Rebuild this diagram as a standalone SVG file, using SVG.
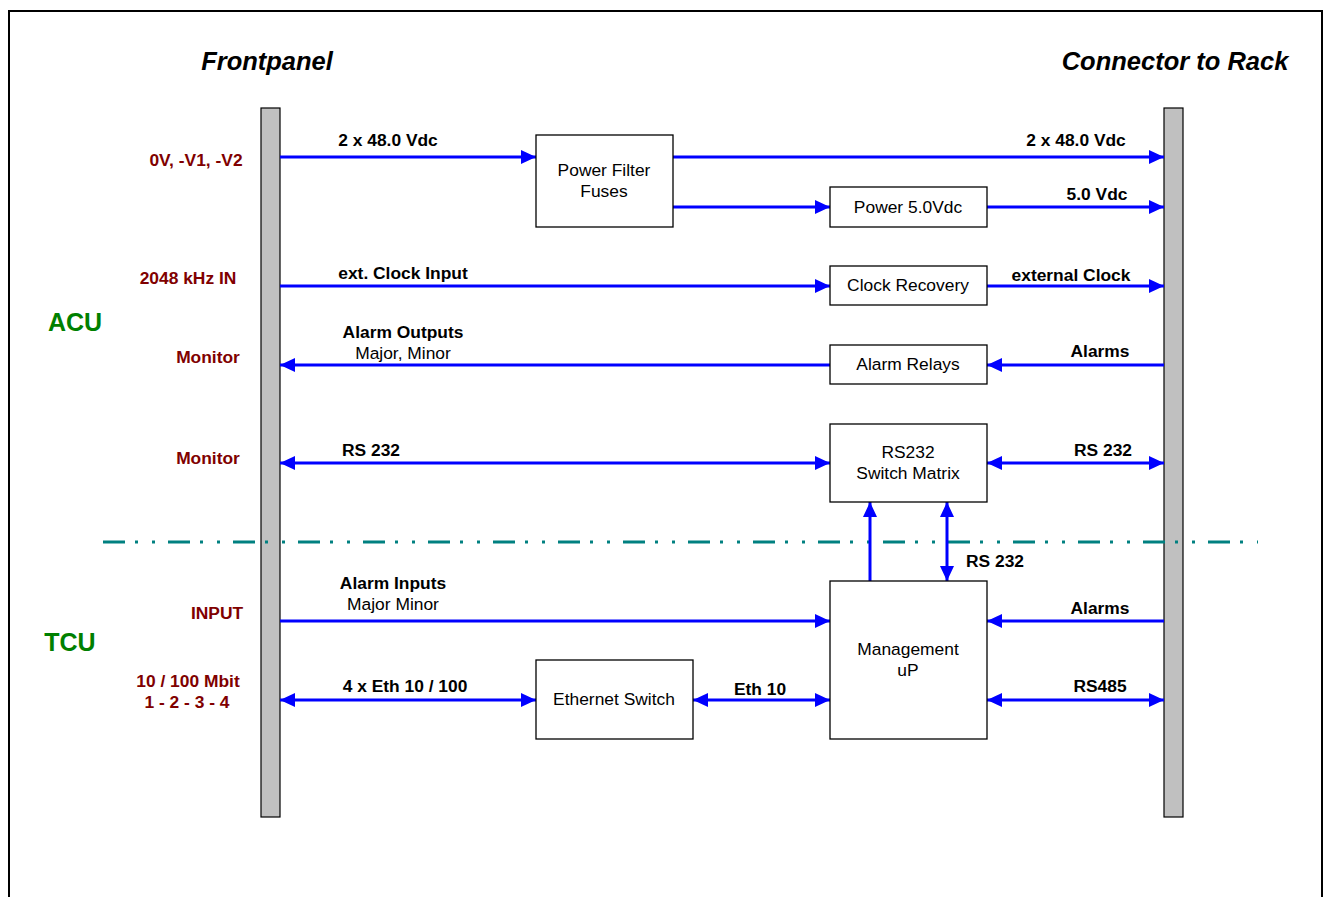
<svg xmlns="http://www.w3.org/2000/svg" width="1327" height="897" viewBox="0 0 1327 897">
<style>
.t{font-family:"Liberation Sans",Arial,sans-serif;font-size:17.4px;fill:#000;text-anchor:middle}
.b{font-weight:bold}
.red{fill:#800000;font-weight:bold}
.grn{fill:#008000;font-weight:bold;font-size:25px}
.hdr{font-weight:bold;font-style:italic;font-size:25.5px}
.box{fill:#fff;stroke:#000;stroke-width:1.3}
.bar{fill:#c0c0c0;stroke:#000;stroke-width:1.2}
.c{stroke:#0000ff;stroke-width:3;fill:none}
.e{marker-end:url(#ah)}
.d{marker-start:url(#ah);marker-end:url(#ah)}
</style>
<defs>
<marker id="ah" markerUnits="userSpaceOnUse" markerWidth="16" markerHeight="15" refX="15" refY="7" orient="auto-start-reverse" viewBox="0 0 16 14">
<path d="M0,0 L15,7 L0,14 z" fill="#0000ff"/>
</marker>
</defs>
<rect width="1327" height="897" fill="#fff"/>
<rect x="9" y="11" width="1313" height="900" fill="none" stroke="#000" stroke-width="2"/>

<text class="t hdr" x="267" y="70">Frontpanel</text>
<text class="t hdr" x="1175" y="70">Connector to Rack</text>
<text class="t grn" x="75" y="331">ACU</text>
<text class="t grn" x="70" y="651">TCU</text>

<g id="left-labels">
<text class="t red" x="196" y="166">0V, -V1, -V2</text>
<text class="t red" x="188" y="284">2048 kHz IN</text>
<text class="t red" x="208" y="363">Monitor</text>
<text class="t red" x="208" y="464">Monitor</text>
<text class="t red" x="217" y="619">INPUT</text>
<text class="t red" x="188" y="687">10 / 100 Mbit</text>
<text class="t red" x="187" y="708">1 - 2 - 3 - 4</text>
</g>

<g id="frontpanel"><rect class="bar" x="261" y="108" width="19" height="709"/></g>
<g id="rack"><rect class="bar" x="1164" y="108" width="19" height="709"/></g>

<line x1="103" y1="542" x2="1258" y2="542" stroke="#008080" stroke-width="3" stroke-dasharray="22 10 3 14 3 13"/>

<g id="connectors">
<line class="c e" x1="280" y1="157" x2="536" y2="157"/>
<line class="c e" x1="673" y1="157" x2="1164" y2="157"/>
<line class="c e" x1="673" y1="207" x2="830" y2="207"/>
<line class="c e" x1="987" y1="207" x2="1164" y2="207"/>
<line class="c e" x1="280" y1="286" x2="830" y2="286"/>
<line class="c e" x1="987" y1="286" x2="1164" y2="286"/>
<line class="c e" x1="830" y1="365" x2="280" y2="365"/>
<line class="c e" x1="1164" y1="365" x2="987" y2="365"/>
<line class="c d" x1="280" y1="463" x2="830" y2="463"/>
<line class="c d" x1="987" y1="463" x2="1164" y2="463"/>
<line class="c e" x1="870" y1="581" x2="870" y2="502"/>
<line class="c d" x1="947" y1="502" x2="947" y2="581"/>
<line class="c e" x1="280" y1="621" x2="830" y2="621"/>
<line class="c e" x1="1164" y1="621" x2="987" y2="621"/>
<line class="c d" x1="280" y1="700" x2="536" y2="700"/>
<line class="c d" x1="693" y1="700" x2="830" y2="700"/>
<line class="c d" x1="987" y1="700" x2="1164" y2="700"/>
<text class="t b" x="388" y="146">2 x 48.0 Vdc</text>
<text class="t b" x="1076" y="146">2 x 48.0 Vdc</text>
<text class="t b" x="1097" y="200">5.0 Vdc</text>
<text class="t b" x="403" y="279">ext. Clock Input</text>
<text class="t b" x="1071" y="281">external Clock</text>
<text class="t b" x="403" y="338">Alarm Outputs</text>
<text class="t" x="403" y="359">Major, Minor</text>
<text class="t b" x="1100" y="357">Alarms</text>
<text class="t b" x="371" y="456">RS 232</text>
<text class="t b" x="1103" y="456">RS 232</text>
<text class="t b" x="995" y="567">RS 232</text>
<text class="t b" x="393" y="589">Alarm Inputs</text>
<text class="t" x="393" y="610">Major Minor</text>
<text class="t b" x="1100" y="614">Alarms</text>
<text class="t b" x="405" y="692">4 x Eth 10 / 100</text>
<text class="t b" x="760" y="695">Eth 10</text>
<text class="t b" x="1100" y="692">RS485</text>
</g>

<g id="power-filter"><rect class="box" x="536" y="135" width="137" height="92"/>
<text class="t" x="604" y="176">Power Filter</text><text class="t" x="604" y="197">Fuses</text></g>
<g id="power-5v"><rect class="box" x="830" y="187" width="157" height="40"/>
<text class="t" x="908" y="213">Power 5.0Vdc</text></g>
<g id="clock-recovery"><rect class="box" x="830" y="266" width="157" height="39"/>
<text class="t" x="908" y="291">Clock Recovery</text></g>
<g id="alarm-relays"><rect class="box" x="830" y="345" width="157" height="39"/>
<text class="t" x="908" y="370">Alarm Relays</text></g>
<g id="rs232-matrix"><rect class="box" x="830" y="424" width="157" height="78"/>
<text class="t" x="908" y="458">RS232</text><text class="t" x="908" y="479">Switch Matrix</text></g>
<g id="management"><rect class="box" x="830" y="581" width="157" height="158"/>
<text class="t" x="908" y="655">Management</text><text class="t" x="908" y="676">uP</text></g>
<g id="ethernet-switch"><rect class="box" x="536" y="660" width="157" height="79"/>
<text class="t" x="614" y="705">Ethernet Switch</text></g>
</svg>
